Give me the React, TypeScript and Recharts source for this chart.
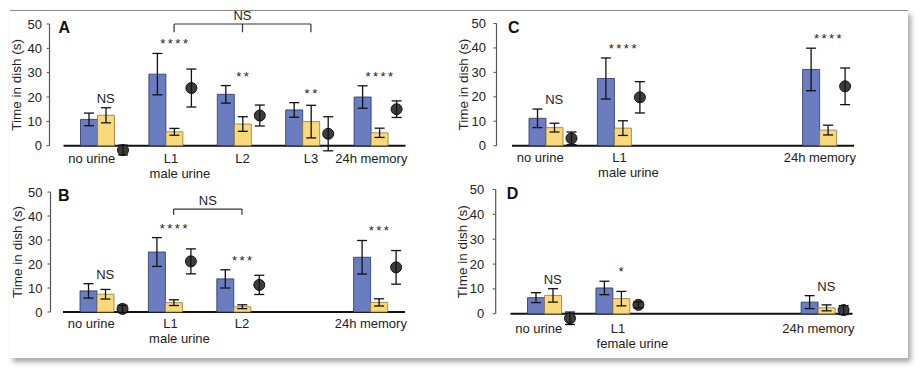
import React from 'react';
import {
  ComposedChart,
  Bar,
  Line,
  XAxis,
  YAxis,
  ErrorBar,
  ReferenceLine,
  ReferenceArea,
  LabelList,
} from 'recharts';

const FONT = '"Liberation Sans", Arial, Helvetica, sans-serif';
const INK = '#222';
const BLUE = '#6a7dc0';
const YELLOW = '#f9d97a';
const DOT = '#3d3d3d';

// panel A - male urine, L1..L3
const catsA = ['no urine', 'L1', 'L2', 'L3', '24h memory'];
const blueA = [10.8, 29.4, 21.1, 14.7, 20.0];
const blueErrA = [2.6, 8.5, 3.6, 3.0, 4.6];
const yellowA = [12.5, 5.7, 8.9, 9.9, 5.3];
const yellowErrA = [3.1, 1.4, 3.0, 6.7, 1.9];
const dotA = [-1.8, 23.7, 12.4, 4.9, 15.0];
const dotErrA = [2.0, 7.8, 4.3, 7.0, 3.4];
const sigA = ['NS', '****', '**', '**', '****'];

// panel B - male urine, L1..L2
const catsB = ['no urine', 'L1', 'L2', ' ', '24h memory'];
const blueB = [8.8, 25.0, 13.8, null, 22.8];
const blueErrB = [3.0, 6.0, 3.8, null, 7.0];
const yellowB = [7.4, 3.9, 2.2, null, 4.0];
const yellowErrB = [2.0, 1.2, 0.8, null, 1.5];
const dotB = [1.3, 21.1, 11.3, null, 18.6];
const dotErrB = [1.5, 5.2, 4.0, null, 7.0];
const sigB = ['NS', '****', '***', '', '***'];

// panel C - male urine, L1 only
const catsC = ['no urine', 'L1', ' ', '  ', '24h memory'];
const blueC = [11.2, 27.5, null, null, 31.2];
const blueErrC = [3.8, 8.4, null, null, 8.7];
const yellowC = [7.4, 7.2, null, null, 6.4];
const yellowErrC = [1.8, 3.0, null, null, 2.0];
const dotC = [3.0, 19.8, null, null, 24.3];
const dotErrC = [2.6, 6.4, null, null, 7.5];
const sigC = ['NS', '****', '', '', '****'];

// panel D - female urine, L1 only
const catsD = ['no urine', 'L1', ' ', '  ', '24h memory'];
const blueD = [6.5, 10.4, null, null, 4.7];
const blueErrD = [2.0, 2.7, null, null, 2.6];
const yellowD = [7.4, 6.1, null, null, 2.4];
const yellowErrD = [2.7, 2.9, null, null, 1.2];
const dotD = [-1.8, 3.6, null, null, 1.5];
const dotErrD = [2.5, 1.2, null, null, 1.8];
const sigD = ['NS', '*', '', '', 'NS'];

const yTicks = [0, 10, 20, 30, 40, 50];

const bracketA = { from: 'L1', to: 'L3', ticks: ['L1', 'L2', 'L3'], y: 50, drop: 3.4, label: 'NS' };
const bracketB = { from: 'L1', to: 'L2', ticks: ['L1', 'L2'], y: 42.9, drop: 2.4, label: 'NS' };

function buildRows(cats, blue, blueErr, yellow, yellowErr, dot, dotErr, sig) {
  return cats.map((cat, i) => {
    const has = blue[i] != null;
    return {
      cat,
      blue: blue[i],
      blueErr: blueErr[i],
      yellow: yellow[i],
      yellowErr: yellowErr[i],
      dot: dot[i],
      dotErr: dotErr[i],
      sig: sig[i],
      sigY: has ? Math.max(blue[i] + blueErr[i], yellow[i] + yellowErr[i]) : null,
    };
  });
}

const W = 430;
const H = 190;
const YW = 40;
const XH = 20;
const PLOT_W = 342;
const BASE_SHIFT = 8;
const LABEL_DX: Record<string, number> = { 'no urine': -14, L1: -3, '24h memory': -8 };

const DotShape = (p: any) => {
  const { x, y, width, height, payload } = p;
  if (!payload || payload.dot == null) return <g />;
  const cy = payload.dot < 0 && height > 0 ? y + height : y;
  return <circle cx={x + width / 2} cy={cy} r={5.5} fill={DOT} stroke="#111" strokeWidth={1} />;
};

const SigLabel = (p: any) => {
  const x = p.x ?? p.viewBox?.x;
  const y = p.y ?? p.viewBox?.y;
  if (!p.value || y == null || isNaN(y)) return null;
  const stars = String(p.value).startsWith('*');
  const ls = stars ? 2.5 : 0;
  return (
    <text x={x + ls / 2} y={y - 5} textAnchor="middle" fontSize={13} letterSpacing={ls} fill={INK}>
      {p.value}
    </text>
  );
};

function Panel({ rows, letter, yLabel, group, bracket, divLeft, divTop, plotLeft, y50, y0, axisGap, labelGap, letterDx, labelOff }: any) {
  const ppu = (y0 - y50) / 50;
  const plotBottom = y0 + 5 * ppu;
  const margin = {
    top: y50 - divTop,
    left: plotLeft - divLeft - YW,
    right: W - (plotLeft - divLeft) - PLOT_W,
    bottom: H - (plotBottom - divTop) - XH,
  };
  const xDy = labelOff + 4.6 - 5 * ppu;

  const YTick = (p: any) => {
    const { x, y, payload } = p;
    const ax = x + labelGap;
    return (
      <g>
        <text x={x} y={y} dy={4.5} textAnchor="end" fontSize={13} fill={INK}>{payload.value}</text>
        <line x1={ax - 3} x2={ax} y1={y} y2={y} stroke="#555" strokeWidth={1} />
      </g>
    );
  };

  const XTick = (p: any) => {
    const { x, y, payload } = p;
    const name = String(payload.value).trim();
    if (!name) return <g />;
    return (
      <g>
        <text x={x + (LABEL_DX[name] ?? 0)} y={y + xDy} textAnchor="middle" fontSize={13} fill={INK}>{name}</text>
        {name === 'L1' && (
          <text x={x - 24.5} y={y + xDy + 15} textAnchor="start" fontSize={13} fill={INK}>{group}</text>
        )}
      </g>
    );
  };

  const Frame = (p: any) => {
    const { x, y, width, height } = p;
    const ax = x - axisGap;
    return (
      <g>
        <line x1={ax} x2={ax} y1={y} y2={y + height} stroke="#555" strokeWidth={1.2} />
        <line x1={x - BASE_SHIFT} x2={x + width - BASE_SHIFT} y1={y + height} y2={y + height} stroke="#111" strokeWidth={2} />
        <text transform={`translate(${ax - 33},${y + height / 2}) rotate(-90)`} dy={4.5} textAnchor="middle" fontSize={13.5} fill={INK}>
          {yLabel}
        </text>
        <text x={ax + letterDx} y={y + 9} fontSize={16} fontWeight="bold" fill="#111">{letter}</text>
      </g>
    );
  };

  return (
    <div style={{ position: 'absolute', left: divLeft, top: divTop, width: W, height: H }}>
      <ComposedChart width={W} height={H} data={rows} margin={margin} barGap={0} barSize={17}>
        <XAxis dataKey="cat" type="category" axisLine={false} tickLine={false} tickSize={0} tickMargin={0} height={XH} interval={0} tick={<XTick />} />
        <YAxis
          type="number"
          domain={[-5, 50]}
          ticks={yTicks}
          interval={0}
          width={YW}
          axisLine={false}
          tickLine={false}
          tickSize={0}
          tickMargin={axisGap + labelGap}
          tick={<YTick />}
        />
        <ReferenceArea y1={0} y2={50} ifOverflow="visible" shape={<Frame />} />
        <Bar dataKey="blue" fill={BLUE} stroke="#2b3462" strokeWidth={0.8} isAnimationActive={false}>
          <ErrorBar dataKey="blueErr" width={5} stroke="#111" strokeWidth={1.3} />
        </Bar>
        <Bar dataKey="yellow" fill={YELLOW} stroke="#8c7a3e" strokeWidth={0.8} isAnimationActive={false}>
          <ErrorBar dataKey="yellowErr" width={5} stroke="#111" strokeWidth={1.3} />
        </Bar>
        <Bar dataKey="dot" fill="none" shape={<DotShape />} isAnimationActive={false}>
          <ErrorBar dataKey="dotErr" width={5} stroke="#111" strokeWidth={1.3} />
        </Bar>
        <Line dataKey="sigY" stroke="none" dot={false} activeDot={false} isAnimationActive={false}>
          <LabelList dataKey="sig" content={<SigLabel />} />
        </Line>
        {bracket && (
          <ReferenceLine
            segment={[{ x: bracket.from, y: bracket.y }, { x: bracket.to, y: bracket.y }]}
            stroke="#333"
            strokeWidth={1.2}
            ifOverflow="visible"
            label={{ value: bracket.label, position: 'top', offset: 4, fill: INK, fontSize: 13, fontFamily: FONT }}
          />
        )}
        {bracket &&
          bracket.ticks.map((t: string) => (
            <ReferenceLine
              key={t}
              segment={[{ x: t, y: bracket.y }, { x: t, y: bracket.y - bracket.drop }]}
              stroke="#333"
              strokeWidth={1.2}
              ifOverflow="visible"
            />
          ))}
      </ComposedChart>
    </div>
  );
}

export default function App() {
  const rowsA = buildRows(catsA, blueA, blueErrA, yellowA, yellowErrA, dotA, dotErrA, sigA);
  const rowsB = buildRows(catsB, blueB, blueErrB, yellowB, yellowErrB, dotB, dotErrB, sigB);
  const rowsC = buildRows(catsC, blueC, blueErrC, yellowC, yellowErrC, dotC, dotErrC, sigC);
  const rowsD = buildRows(catsD, blueD, blueErrD, yellowD, yellowErrD, dotD, dotErrD, sigD);

  return (
    <div style={{ position: 'absolute', left: 0, top: 0, width: 919, height: 370, background: '#fff', fontFamily: FONT }}>
      <div
        style={{
          position: 'absolute',
          left: 10,
          top: 10,
          width: 898,
          height: 347,
          background: '#fff',
          borderTop: '1px solid #8a8a8a',
          boxShadow: '3px 4px 5px rgba(0,0,0,0.35)',
        }}
      />
      <Panel rows={rowsA} letter="A" yLabel="Time in dish (s)" group="male urine" bracket={bracketA}
        divLeft={0} divTop={0} plotLeft={71.5} y50={24} y0={145.7} axisGap={22} labelGap={7.5} letterDx={9} labelOff={12.3} />
      <Panel rows={rowsB} letter="B" yLabel="Time in dish (s)" group="male urine" bracket={bracketB}
        divLeft={0} divTop={168} plotLeft={71} y50={192} y0={312} axisGap={20.5} labelGap={8} letterDx={7.5} labelOff={11.3} />
      <Panel rows={rowsC} letter="C" yLabel="Time in dish (s)" group="male urine" bracket={null}
        divLeft={449} divTop={0} plotLeft={520} y50={23.5} y0={145.7} axisGap={23.5} labelGap={10.5} letterDx={11.5} labelOff={11.6} />
      <Panel rows={rowsD} letter="D" yLabel="TIme in dish (s)" group="female urine" bracket={null}
        divLeft={449} divTop={168} plotLeft={518.5} y50={189.5} y0={313.8} axisGap={22.8} labelGap={11.5} letterDx={11} labelOff={14.5} />
    </div>
  );
}
